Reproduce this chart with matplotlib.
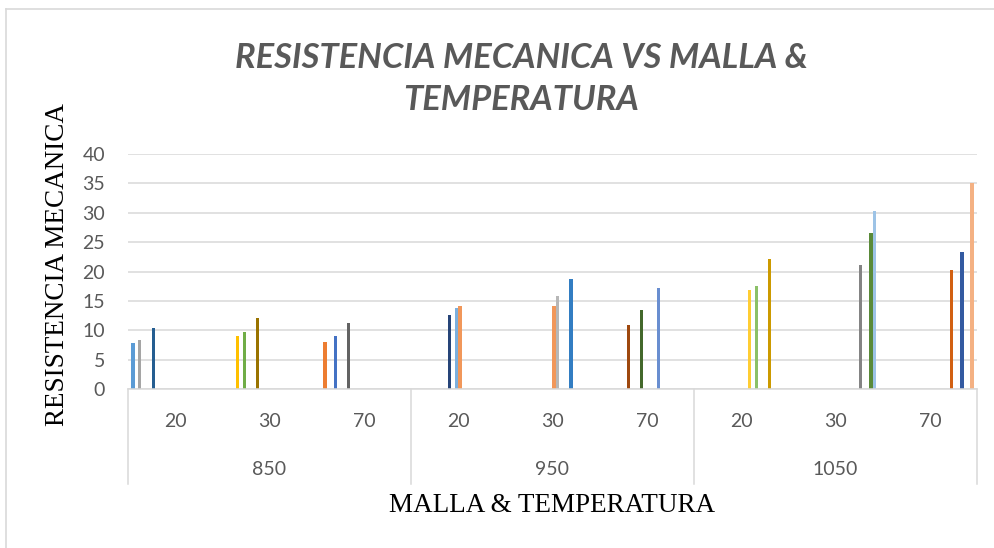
import matplotlib
matplotlib.use("Agg")
import matplotlib.pyplot as plt
import matplotlib.transforms as mtransforms
from matplotlib.lines import Line2D
import numpy as np

# ---------- data
temperaturas = ['850', '950', '1050']
mallas = ['20', '30', '70']
n_series = 26
series_colors = ['#5B9BD5', '#ED7D31', '#A5A5A5', '#FFC000', '#4472C4', '#70AD47',
                 '#255E91', '#9E480E', '#636363', '#997300', '#264478', '#43682B',
                 '#7CAFDD', '#F1975A', '#B7B7B7', '#FFCD33', '#698ED0', '#8CC168',
                 '#327DC2', '#D26012', '#848484', '#CC9A00', '#335AA1', '#5A8A39',
                 '#9DC3E6', '#F4B183']
# which series carry a value in each category (850/20 ... 1050/70)
cat_series = [[0, 2, 6], [3, 5, 9], [1, 4, 8],
              [10, 12, 13], [13, 14, 18], [7, 11, 16],
              [15, 17, 21], [20, 23, 24], [19, 22, 25]]
cat_values = [[7.8, 8.3, 10.5], [9.0, 9.7, 12.2], [8.0, 9.0, 11.2],
              [12.6, 13.9, 14.1], [14.1, 15.8, 18.7], [11.0, 13.4, 17.3],
              [16.8, 17.5, 22.1], [21.2, 26.6, 30.3], [20.2, 23.4, 35.0]]
gap_width = 2.0   # excel gap width (200%)

n_cat = len(temperaturas) * len(mallas)
valores = np.full((n_series, n_cat), np.nan)
for c in range(n_cat):
    for s, v in zip(cat_series[c], cat_values[c]):
        valores[s, c] = v

# ---------- figure
fig = plt.figure(figsize=(9.95, 5.48), dpi=100)
ax = fig.add_axes([128 / 995, 1 - 389.3 / 548, 849 / 995, 235.3 / 548])

slot = 1.0 / (n_series + gap_width)
xc = np.arange(n_cat)
for s in range(n_series):
    off = -0.5 + (gap_width / 2 + s + 0.5) * slot
    ax.bar(xc + off, valores[s], width=slot, color=series_colors[s], zorder=3)

ax.set_xlim(-0.5, n_cat - 0.5)
ax.set_ylim(0, 40)
ax.set_yticks(range(0, 41, 5))
ax.grid(axis='y', color='#D9D9D9', linewidth=1.1, zorder=0)
for sp in ax.spines.values():
    sp.set_visible(False)
ax.tick_params(axis='y', length=0, pad=16.5, labelsize=14, labelcolor='#595959')
ax.set_xticks([])
for lab in ax.get_yticklabels():
    lab.set_family('Lato')

# multi level category axis
trans = mtransforms.blended_transform_factory(ax.transData, ax.transAxes)
ax.plot([-0.5, n_cat - 0.5], [0, 0], color='#D9D9D9', lw=1.1, transform=trans,
        clip_on=False, zorder=4)
for i in range(len(temperaturas) + 1):
    xb = -0.5 + i * len(mallas)
    ax.plot([xb, xb], [0, -0.402], color='#D9D9D9', lw=1.1, transform=trans,
            clip_on=False)
for i, t in enumerate(temperaturas):
    for j, m in enumerate(mallas):
        ax.text(i * 3 + j, -0.135, m, transform=trans, ha='center', va='center',
                fontsize=14, color='#595959', family='Lato')
    ax.text(i * 3 + 1, -0.34, t, transform=trans, ha='center', va='center',
            fontsize=14, color='#595959', family='Lato')

fig.text(552 / 995, 1 - 505 / 548, 'MALLA & TEMPERATURA', ha='center', va='center',
         fontsize=19.5, family='Liberation Serif', color='black')
fig.text(58 / 995, 1 - 265 / 548, 'RESISTENCIA MECANICA', ha='center', va='center',
         rotation=90, fontsize=19.5, family='Liberation Serif', color='black')
fig.text(521 / 995, 1 - 79 / 548, 'RESISTENCIA MECANICA VS MALLA &\nTEMPERATURA',
         ha='center', va='center', fontsize=24.8, fontweight='bold', style='italic',
         color='#595959', family='Lato', linespacing=1.4)

# chart area border
fig.add_artist(Line2D([5.5 / 995, 5.5 / 995], [1 - 9 / 548, 0], color='#D9D9D9', lw=1.2))
fig.add_artist(Line2D([5.5 / 995, 1], [1 - 9 / 548, 1 - 9 / 548], color='#D9D9D9', lw=1.2))

fig.savefig('out.png', dpi=100)
